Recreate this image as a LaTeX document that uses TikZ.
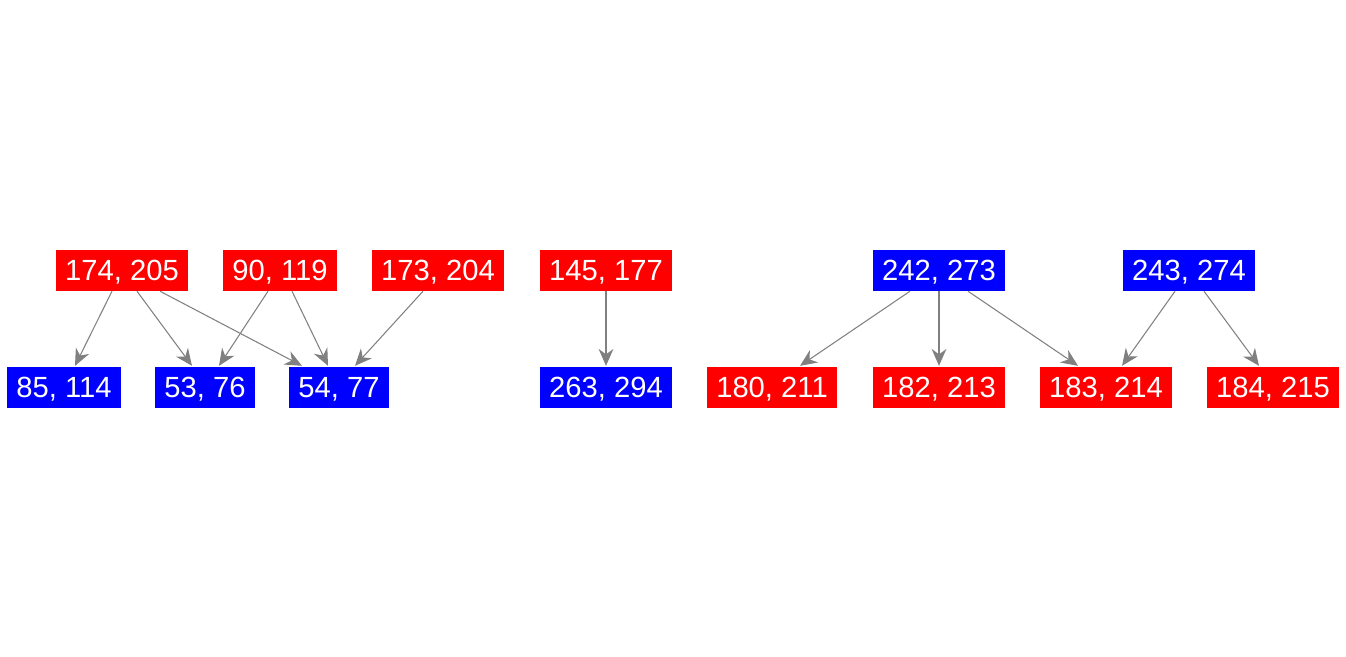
\documentclass[tikz,border=0pt]{standalone}
\usepackage{fontspec}
\setmainfont{Liberation Sans}
\usetikzlibrary{arrows.meta}

\tikzset{
  pair/.style={text=white, font=\fontsize{8.3}{9}\selectfont, inner xsep=0.095cm, inner ysep=0pt,
    minimum height=0.41cm, text height=0.206cm, text depth=0pt},
  rednode/.style={pair, fill=red},
  bluenode/.style={pair, fill=blue},
  link/.style={draw=gray, line width=0.3pt, -{Stealth[length=4.8pt,width=4.2pt]}}
}

\begin{document}
\begin{tikzpicture}[x=0.01cm,y=-0.01cm]
\useasboundingbox (0,0) rectangle (1346,656);

\node[rednode] (a1) at (122,270) {174, 205};
\node[rednode] (a2) at (280,270) {90, 119};
\node[rednode] (a3) at (438,270) {173, 204};
\node[rednode] (a4) at (606,270) {145, 177};
\node[bluenode] (a5) at (939,270) {242, 273};
\node[bluenode] (a6) at (1189,270) {243, 274};

\node[bluenode] (b1) at (64,387) {85, 114};
\node[bluenode] (b2) at (205,387) {53, 76};
\node[bluenode] (b3) at (339,387) {54, 77};
\node[bluenode] (b4) at (606,387) {263, 294};
\node[rednode] (b5) at (772,387) {180, 211};
\node[rednode] (b6) at (939,387) {182, 213};
\node[rednode] (b7) at (1106,387) {183, 214};
\node[rednode] (b8) at (1273,387) {184, 215};

\draw[link] ([xshift=-0.10cm]a1.south) -- ([xshift=0.11cm]b1.north);
\draw[link] ([xshift=0.15cm]a1.south) -- ([xshift=-0.13cm]b2.north);
\draw[link] ([xshift=0.38cm]a1.south) -- ([xshift=-0.37cm]b3.north);
\draw[link] ([xshift=-0.12cm]a2.south) -- ([xshift=0.14cm]b2.north);
\draw[link] ([xshift=0.12cm]a2.south) -- ([xshift=-0.11cm]b3.north);
\draw[link] ([xshift=-0.15cm]a3.south) -- ([xshift=0.16cm]b3.north);
\draw[link] (a4) -- (b4);
\draw[link] ([xshift=-0.29cm]a5.south) -- ([xshift=0.28cm]b5.north);
\draw[link] (a5) -- (b6);
\draw[link] ([xshift=0.29cm]a5.south) -- ([xshift=-0.28cm]b7.north);
\draw[link] ([xshift=-0.14cm]a6.south) -- ([xshift=0.16cm]b7.north);
\draw[link] ([xshift=0.15cm]a6.south) -- ([xshift=-0.14cm]b8.north);
\end{tikzpicture}
\end{document}
